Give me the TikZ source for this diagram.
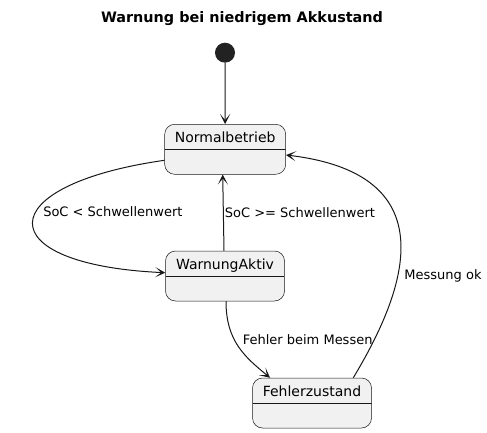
\documentclass[tikz,border=0pt]{standalone}
\usepackage{fontspec}
\setmainfont{DejaVu Sans}
\usetikzlibrary{arrows.meta}
\definecolor{plantline}{HTML}{181818}
\definecolor{plantfill}{HTML}{F1F1F1}
\definecolor{startdot}{HTML}{222222}

\begin{document}
\begin{tikzpicture}[
    x=1pt, y=1pt,
    title node/.style={font=\bfseries\fontsize{14.4}{16}\selectfont},
    start node/.style={circle, fill=startdot, minimum size=20pt, inner sep=0pt},
    state node/.style={rectangle, rounded corners=10pt, draw=plantline, line width=0.5pt,
        fill=plantfill, minimum height=50pt, inner sep=0pt, text height=18pt, text depth=32pt,
        font=\fontsize{14}{16}\selectfont,
        path picture={\draw[plantline, line width=0.5pt]
            (path picture bounding box.west) -- (path picture bounding box.east);}},
    trans/.style={draw=plantline, line width=1pt, -{Stealth[length=10pt, width=10pt, inset=6pt]}},
    trans label/.style={font=\fontsize{13}{15}\selectfont, inner sep=1pt, anchor=west}
]
    \useasboundingbox (0,0) rectangle (487,-433);

    \node[title node] (title) at (242,-18.3) {Warnung bei niedrigem Akkustand};
    \node[start node] (start) at (225,-52.7) {};
    \node[state node, minimum width=121pt] (normal)  at (225.2,-149.3) {Normalbetrieb};
    \node[state node, minimum width=119pt] (warnung) at (225,-276)     {WarnungAktiv};
    \node[state node, minimum width=119pt] (fehler)  at (312,-403)     {Fehlerzustand};

    \draw[trans] (start) -- (normal);
    \draw[trans] ([yshift=-11pt]normal.west) .. controls +(-175,-25) and +(-177,8)
        .. node[trans label, pos=0.42, xshift=5.5pt] {SoC < Schwellenwert} ([yshift=3.3pt]warnung.west);
    \draw[trans] ([xshift=-1pt]warnung.north)
        -- node[trans label, pos=0.5] {SoC >= Schwellenwert} ([xshift=-2.5pt]normal.south);
    \draw[trans] ([xshift=1pt]warnung.south) .. controls +(0,-40) and +(-25,20.7)
        .. node[trans label, pos=0.4, xshift=7pt] {Fehler beim Messen} ([xshift=-42pt]fehler.north);
    \draw[trans] ([xshift=41.3pt]fehler.north) .. controls +(46.7,77.7) and +(169,-20)
        .. node[trans label, pos=0.4, xshift=4.5pt, yshift=-4.5pt] {Messung ok} ([yshift=-5.7pt]normal.east);
\end{tikzpicture}
\end{document}
